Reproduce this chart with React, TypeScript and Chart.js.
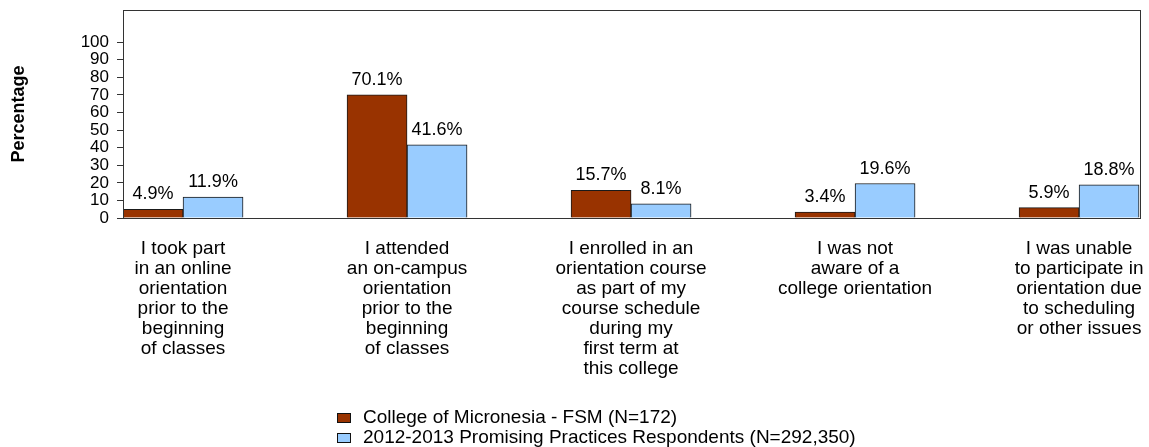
import React, { useEffect, useRef } from "react";
import { Chart, registerables } from "chart.js";

Chart.register(...registerables);

const categories: string[][] = [
  ["I took part", "in an online", "orientation", "prior to the", "beginning", "of classes"],
  ["I attended", "an on-campus", "orientation", "prior to the", "beginning", "of classes"],
  ["I enrolled in an", "orientation course", "as part of my", "course schedule", "during my", "first term at", "this college"],
  ["I was not", "aware of a", "college orientation"],
  ["I was unable", "to participate in", "orientation due", "to scheduling", "or other issues"],
];

const collegeValues = [4.9, 70.1, 15.7, 3.4, 5.9];
const promisingValues = [11.9, 41.6, 8.1, 19.6, 18.8];
const seriesNames = [
  "College of Micronesia - FSM (N=172)",
  "2012-2013 Promising Practices Respondents (N=292,350)",
];
const yTickValues = [0, 10, 20, 30, 40, 50, 60, 70, 80, 90, 100];

const FONT = "'Liberation Sans', Arial, Helvetica, sans-serif";

export default function App() {
  const canvasRef = useRef<HTMLCanvasElement | null>(null);

  useEffect(() => {
    if (!canvasRef.current) return;

    const labelsPlugin = {
      id: "valueLabels",
      afterDatasetsDraw(chart: any) {
        const ctx = chart.ctx;
        const area = chart.chartArea;
        ctx.save();
        ctx.strokeStyle = "#333";
        ctx.lineWidth = 1;
        ctx.strokeRect(
          Math.round(area.left) + 0.5,
          Math.round(area.top) + 0.5,
          Math.round(area.right) - Math.round(area.left),
          Math.round(area.bottom) - Math.round(area.top)
        );
        ctx.fillStyle = "#000";
        ctx.font = `18px ${FONT}`;
        ctx.textAlign = "center";
        ctx.textBaseline = "alphabetic";
        chart.data.datasets.forEach((ds: any, di: number) => {
          const meta = chart.getDatasetMeta(di);
          meta.data.forEach((el: any, i: number) => {
            const v = ds.data[i].y;
            ctx.fillText(`${v.toFixed(1)}%`, el.x, el.y - 10);
          });
        });
        ctx.restore();
      },
      afterDraw(chart: any) {
        const ctx = chart.ctx;
        ctx.save();
        ctx.font = `19px ${FONT}`;
        ctx.textAlign = "left";
        ctx.textBaseline = "alphabetic";
        chart.data.datasets.forEach((ds: any, di: number) => {
          const y = 413.5 + di * 20;
          ctx.fillStyle = ds.backgroundColor;
          ctx.fillRect(337.5, y, 13, 9);
          ctx.strokeStyle = "#111";
          ctx.lineWidth = 1;
          ctx.strokeRect(337.5, y, 13, 9);
          ctx.fillStyle = "#000";
          ctx.fillText(ds.label, 363, 422.5 + di * 20);
        });
        ctx.restore();
      },
    };

    const chart = new Chart(canvasRef.current, {
      type: "bar",
      data: {
        datasets: [
          {
            label: seriesNames[0],
            data: collegeValues.map((v, i) => ({ x: i, y: v })),
            backgroundColor: "#993300",
            borderColor: "#1a1a1a",
            borderWidth: 1,
            barThickness: 60,
          },
          {
            label: seriesNames[1],
            data: promisingValues.map((v, i) => ({ x: i, y: v })),
            backgroundColor: "#99CCFF",
            borderColor: "#1a1a1a",
            borderWidth: 1,
            barThickness: 60,
          },
        ] as any,
      },
      options: {
        animation: false,
        responsive: false,
        layout: { padding: { top: 10, right: 9, left: 0, bottom: 0 } },
        plugins: {
          legend: { display: false },
          tooltip: { enabled: false },
        },
        scales: {
          x: {
            type: "linear",
            offset: false,
            min: -0.268,
            max: 4.272,
            grid: { display: false, drawTicks: false, offset: false },
            border: { display: false },
            afterBuildTicks: (scale: any) => {
              scale.ticks = categories.map((_, i) => ({ value: i }));
            },
            afterFit: (scale: any) => {
              scale.height = 229;
              scale.paddingLeft = 0;
              scale.paddingRight = 0;
              scale.paddingTop = 0;
              scale.paddingBottom = 0;
            },
            ticks: {
              autoSkip: false,
              maxRotation: 0,
              minRotation: 0,
              padding: 21,
              color: "#000",
              font: { family: FONT, size: 19, lineHeight: "20px" },
              callback: (value: any) => categories[Math.round(Number(value))] ?? "",
            },
          },
          y: {
            type: "linear",
            min: 0,
            max: 118.3,
            grid: {
              drawOnChartArea: false,
              drawTicks: true,
              tickLength: 6,
              color: "#333",
            },
            border: { display: false },
            afterBuildTicks: (scale: any) => {
              scale.ticks = yTickValues.map((v) => ({ value: v }));
            },
            afterFit: (scale: any) => {
              scale.width = 123;
              scale.paddingLeft = 0;
              scale.paddingRight = 0;
              scale.paddingTop = 0;
              scale.paddingBottom = 0;
            },
            ticks: {
              autoSkip: false,
              padding: 8,
              color: "#000",
              font: { family: FONT, size: 17 },
              callback: (value: any) => String(value),
            },
            title: {
              display: true,
              text: "Percentage",
              color: "#000",
              padding: { top: 8, bottom: 0 },
              font: { family: FONT, size: 18, weight: "bold" },
            },
          },
        },
      } as any,
      plugins: [labelsPlugin],
    });

    return () => chart.destroy();
  }, []);

  return (
    <div style={{ position: "absolute", left: 0, top: 0, width: 1149, height: 447, background: "#fff" }}>
      <canvas ref={canvasRef} width={1149} height={447} />
    </div>
  );
}
